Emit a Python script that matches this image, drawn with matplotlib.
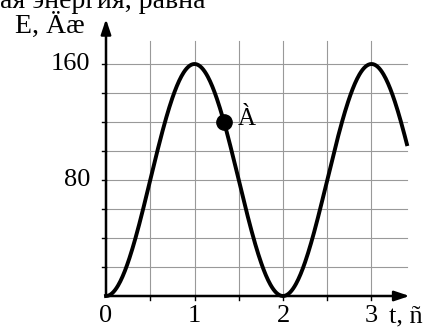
import numpy as np
import matplotlib.pyplot as plt

plt.rcParams['font.family'] = ['Liberation Serif', 'DejaVu Serif']

# curve: E(t), E = 80 * (1 - cos(pi * t))
t_max = 3.4
e_amp = 80
y_ticks = [80, 160]
y_labels = ['80', '160']
x_ticks = [0, 1, 2, 3]
x_labels = ['0', '1', '2', '3']
point_t = 4 / 3
point_label = 'À'

t = np.linspace(0, t_max, 400)
e = e_amp * (1 - np.cos(np.pi * t))
point_e = e_amp * (1 - np.cos(np.pi * point_t))

fig = plt.figure(figsize=(4.34, 3.29), dpi=100)
ax = fig.add_axes([0, 0, 1, 1])
# map data to pixels: x px = 106 + 88.5 t, y px = 296 - 1.45 E
ax.set_xlim(-106 / 88.5, (434 - 106) / 88.5)
ax.set_ylim((296 - 329) / 1.45, 296 / 1.45)
ax.axis('off')

# grid
for gx in np.arange(0.5, t_max + 0.01, 0.5):
    ax.plot([gx, gx], [0, 176], color='#999999', lw=0.8, zorder=1)
for gy in np.arange(20, 161, 20):
    ax.plot([0, t_max], [gy, gy], color='#999999', lw=0.8, zorder=1)

# small ticks
for gx in np.arange(0.5, t_max + 0.01, 0.5):
    ax.plot([gx, gx], [0, -3], color='black', lw=1, zorder=2)
for gy in np.arange(20, 161, 20):
    ax.plot([0, -0.04], [gy, gy], color='black', lw=1, zorder=2)

# axes with arrows
ax.annotate('', xy=(3.43, 0), xytext=(0, 0),
            arrowprops=dict(arrowstyle='-|>,head_length=0.9,head_width=0.3',
                            color='black', lw=1.8, shrinkA=0, shrinkB=0), zorder=3)
ax.annotate('', xy=(0, 191), xytext=(0, 0),
            arrowprops=dict(arrowstyle='-|>,head_length=0.9,head_width=0.3',
                            color='black', lw=1.8, shrinkA=0, shrinkB=0), zorder=3)

# curve and point
ax.plot(t, e, color='black', lw=2.8, zorder=4)
ax.plot([point_t], [point_e], 'o', color='black', ms=11, zorder=5)
ax.text(point_t + 0.16, point_e + 2, point_label, fontsize=18, va='center', ha='left')

# labels
for v, s in zip(y_ticks, y_labels):
    ax.text(-0.18, v, s, fontsize=19, ha='right', va='center')
for v, s in zip(x_ticks, x_labels):
    ax.text(v, -6.5, s, fontsize=19, ha='center', va='top')
ax.text(3.2, -6.5, 't, ñ', fontsize=19, ha='left', va='top')
ax.text(-1.03, 181.5, 'E, Äæ', fontsize=20, ha='left', va='baseline')
ax.text(-1.2, 198.5, 'ая энергия, равна', fontsize=20, ha='left', va='baseline')

fig.savefig('out.png', dpi=100)
